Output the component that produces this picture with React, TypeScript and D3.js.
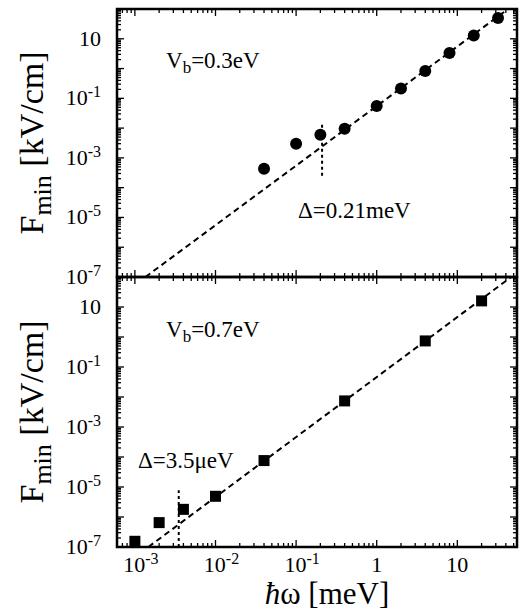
import React from 'react';
import * as d3 from 'd3';

// hbar*omega [meV] and F_min [kV/cm]
const topOmega = [0.04, 0.1, 0.2, 0.4, 1, 2, 4, 8, 16, 32];
const topFmin = [4.3e-4, 3.0e-3, 6.0e-3, 9.5e-3, 0.055, 0.215, 0.83, 3.3, 12.9, 50];
const bottomOmega = [1e-3, 2e-3, 4e-3, 0.01, 0.04, 0.4, 4, 20];
const bottomFmin = [1.55e-7, 6.5e-7, 1.8e-6, 4.9e-6, 7.6e-5, 7.4e-3, 0.74, 16];

// fitted F ~ w^2 lines (end points)
const topFit: [number, number][] = [[1.35e-3, 1e-7], [42.6, 100]];
const bottomFit: [number, number][] = [[1.47e-3, 1e-7], [46.6, 100]];

// gap markers
const topDelta = { x: 0.21, y: [2.5e-4, 1.3e-2] };
const bottomDelta = { x: 3.5e-3, y: [1e-7, 7.8e-6] };

const xTicks = [1e-3, 1e-2, 1e-1, 1, 10];
const xTickLabels = [['10', '-3'], ['10', '-2'], ['10', '-1'], ['1', ''], ['10', '']];
const yTicks = [10, 1e-1, 1e-3, 1e-5, 1e-7];
const yTickLabels = [['10', ''], ['10', '-1'], ['10', '-3'], ['10', '-5'], ['10', '-7']];

const W = 522, H = 612;
const left = 117, right = 517;
const font = "'Liberation Serif', 'Times New Roman', Times, 'DejaVu Serif', serif";

const x = d3.scaleLog().domain([6e-4, 55]).range([left, right]);
const yTop = d3.scaleLog().domain([1e-7, 100]).range([277, 9]);
const yBot = d3.scaleLog().domain([1e-7, 100]).range([547, 277]);

function logTicks(lo: number, hi: number) {
  const major: number[] = [];
  const minor: number[] = [];
  for (let e = Math.floor(Math.log10(lo)) - 1; e <= Math.ceil(Math.log10(hi)); e++) {
    for (let k = 1; k <= 9; k++) {
      const v = k * Math.pow(10, e);
      if (v < lo || v > hi) continue;
      if (k === 1) major.push(v); else minor.push(v);
    }
  }
  return { major, minor };
}

function Panel({ y, omega, fmin, fit, delta, square, label }: any) {
  const [y0, y1] = y.range();
  const xt = logTicks(6e-4, 55);
  const yt = logTicks(1e-7, 100);
  const line = d3.line<[number, number]>().x(d => x(d[0])).y(d => y(d[1]));
  const ticks: any[] = [];
  xt.major.concat(xt.minor).forEach((v, i) => {
    const len = xt.major.includes(v) ? 7 : 4;
    ticks.push(<line key={'xb' + i} x1={x(v)} x2={x(v)} y1={y0} y2={y0 - len} />);
    ticks.push(<line key={'xt' + i} x1={x(v)} x2={x(v)} y1={y1} y2={y1 + len} />);
  });
  yt.major.concat(yt.minor).forEach((v, i) => {
    const len = yt.major.includes(v) ? 7 : 4;
    ticks.push(<line key={'yl' + i} x1={left} x2={left + len} y1={y(v)} y2={y(v)} />);
    ticks.push(<line key={'yr' + i} x1={right} x2={right - len} y1={y(v)} y2={y(v)} />);
  });
  return (
    <g>
      <g stroke="#000" strokeWidth={1.3}>{ticks}</g>
      <path d={line(fit) || ''} fill="none" stroke="#000" strokeWidth={2} strokeDasharray="6,4" />
      <line x1={x(delta.x)} x2={x(delta.x)} y1={y(delta.y[0])} y2={y(delta.y[1])}
        stroke="#000" strokeWidth={2} strokeDasharray="3,3" />
      {omega.map((w: number, i: number) => square
        ? <rect key={i} x={x(w) - 5.5} y={y(fmin[i]) - 5.5} width={11} height={11} fill="#000" />
        : <circle key={i} cx={x(w)} cy={y(fmin[i])} r={6} fill="#000" />)}
      <rect x={left} y={y1} width={right - left} height={y0 - y1} fill="none" stroke="#000" strokeWidth={2.5} />
      {yTicks.map((v, i) => (
        <text key={i} x={101} y={y(v) + 7} textAnchor="end" fontSize={22}>
          {yTickLabels[i][0]}
          {yTickLabels[i][1] && <tspan fontSize={16} dy={-8}>{yTickLabels[i][1]}</tspan>}
        </text>
      ))}
      <text transform={`translate(43,${(y0 + y1) / 2}) rotate(-90)`} textAnchor="middle" fontSize={34}>
        F<tspan fontSize={26} dy={8}>min</tspan><tspan dy={-8}> [kV/cm]</tspan>
      </text>
      {label}
    </g>
  );
}

export default function App() {
  return (
    <svg width={W} height={H} style={{ position: 'absolute', left: 0, top: 0, background: '#fff', fontFamily: font }}>
      <Panel y={yTop} omega={topOmega} fmin={topFmin} fit={topFit} delta={topDelta} square={false}
        label={<g fontSize={23}>
          <text x={166} y={68}>V<tspan fontSize={17} dy={5}>b</tspan><tspan dy={-5}>=0.3eV</tspan></text>
          <text x={298} y={218}>Δ=0.21meV</text>
        </g>} />
      <Panel y={yBot} omega={bottomOmega} fmin={bottomFmin} fit={bottomFit} delta={bottomDelta} square={true}
        label={<g fontSize={23}>
          <text x={166} y={337}>V<tspan fontSize={17} dy={5}>b</tspan><tspan dy={-5}>=0.7eV</tspan></text>
          <text x={138} y={468}>Δ=3.5μeV</text>
        </g>} />
      {xTicks.map((v, i) => (
        <text key={i} x={x(v) + (xTickLabels[i][1] ? 6 : 0)} y={572} textAnchor="middle" fontSize={22}>
          {xTickLabels[i][0]}
          {xTickLabels[i][1] && <tspan fontSize={16} dy={-8}>{xTickLabels[i][1]}</tspan>}
        </text>
      ))}
      <text x={327} y={604} textAnchor="middle" fontSize={31}>
        <tspan fontStyle="italic">ħ</tspan>ω [meV]
      </text>
    </svg>
  );
}
